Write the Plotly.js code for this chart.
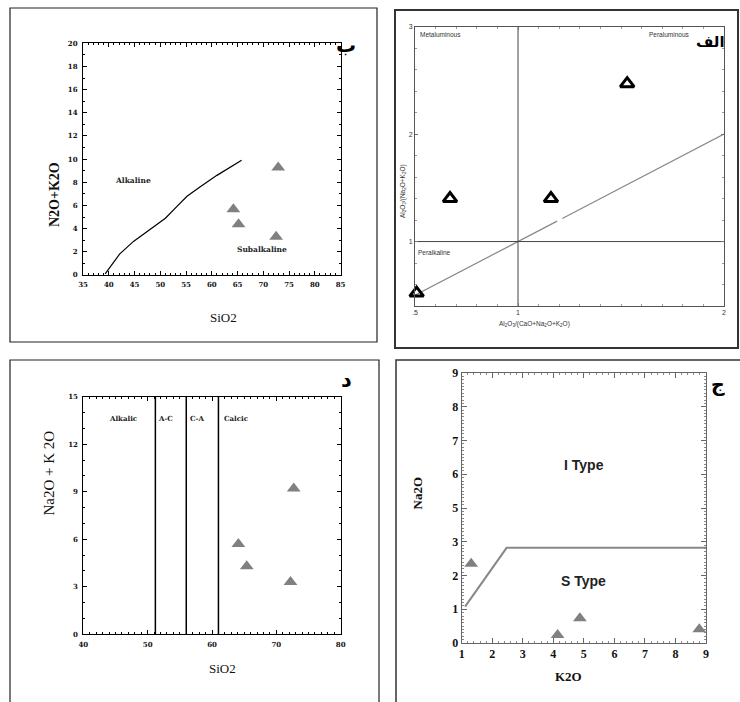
<!DOCTYPE html>
<html>
<head>
<meta charset="utf-8">
<script src="https://cdn.plot.ly/plotly-3.0.1.min.js"></script>
<style>html,body{margin:0;padding:0;background:#fff;}#chart{width:740px;height:702px;}</style>
</head>
<body>
<div id="chart"></div>
<script>
// ---------- DATA ----------
// Panel ب : TAS  (SiO2 vs Na2O+K2O)
const tasBoundarySiO2 = [39.3, 40.3, 42.1, 44.8, 48.0, 51.0, 53.2, 55.2, 57.7, 61.0, 65.8];
const tasBoundaryAlk  = [0.1, 0.7, 1.8, 2.9, 3.9, 4.9, 5.9, 6.8, 7.6, 8.6, 9.9];
const tasSiO2 = [64.2, 65.2, 72.5, 72.9];
const tasAlk  = [5.67, 4.37, 3.3, 9.27];
const tasRegionLabels = ["Alkaline", "Subalkaline"];
const tasRegionX = [44.8, 69.7];
const tasRegionY = [8.2, 2.2];

// Panel الف : Shand A/CNK vs A/NK
const acnk = [0.508, 0.67, 1.16, 1.53];
const ank  = [0.52, 1.40, 1.40, 2.47];
const shandDiagX1 = [0.5, 1.19];
const shandDiagY1 = [0.5, 1.19];
const shandDiagX2 = [1.215, 2.0];
const shandDiagY2 = [1.215, 2.0];
const shandDividerX = 1;
const shandDividerY = 1;
const shandLabels = ["Metaluminous", "Peraluminous", "Peralkaline"];
const shandTickVals = [0.5, 1, 2];
const shandTickText = [".5", "1", "2"];

// Panel د : SiO2 vs Na2O+K2O (Alkalic / A-C / C-A / Calcic)
const peacockBounds = [51.2, 56, 61];
const peacockLabels = ["Alkalic", "A-C", "C-A", "Calcic"];
const peacockLabelX = [46.1, 52.8, 57.7, 63.7];
const peacockSiO2 = [64.1, 65.4, 72.2, 72.7];
const peacockAlk  = [5.7, 4.3, 3.3, 9.2];

// Panel ج : K2O vs Na2O (I/S type); y positions as drawn (labels skip 4)
const isBoundaryK2O  = [1.11, 2.47, 9.0];
const isBoundaryNa2O = [1.08, 2.82, 2.82];
const isK2O  = [1.31, 4.14, 4.87, 8.78];
const isNa2O = [2.35, 0.24, 0.73, 0.41];
const isYTickVals = [0, 1, 2, 3, 4, 5, 6, 7, 8];
const isYTickText = ["0", "1", "2", "3", "5", "6", "7", "8", "9"];
const isLabels = ["I Type", "S Type"];
const isLabelX = [4.99, 4.99];
const isLabelY = [5.28, 1.85];

// ---------- LAYOUT HELPERS ----------
const W = 740, H = 702;
const px = v => v / W;
const py = v => 1 - v / H;

const serifB = {family: "DejaVu Serif", size: 7, color: "#111", weight: "bold"};
const triGrey = {symbol: "triangle-up", size: 12, color: "#808080"};

function ax(extra) {
  return Object.assign({
    showline: true, linecolor: "#000", linewidth: 1, mirror: "allticks",
    ticks: "inside", ticklen: 4, tickcolor: "#000", tickwidth: 1,
    showgrid: false, zeroline: false, fixedrange: true,
  }, extra);
}

const traces = [
  // ب
  {x: tasBoundarySiO2, y: tasBoundaryAlk, xaxis: "x", yaxis: "y", mode: "lines",
   line: {color: "#000", width: 1.2}, hoverinfo: "skip"},
  {x: tasSiO2, y: tasAlk, xaxis: "x", yaxis: "y", mode: "markers", marker: triGrey},
  // الف
  {x: shandDiagX1, y: shandDiagY1, xaxis: "x2", yaxis: "y2", mode: "lines",
   line: {color: "#888", width: 1.2}},
  {x: shandDiagX2, y: shandDiagY2, xaxis: "x2", yaxis: "y2", mode: "lines",
   line: {color: "#888", width: 1.2}},
  {x: [shandDividerX, shandDividerX], y: [0.4, 3], xaxis: "x2", yaxis: "y2", mode: "lines",
   line: {color: "#444", width: 1}},
  {x: [0.5, 2], y: [shandDividerY, shandDividerY], xaxis: "x2", yaxis: "y2", mode: "lines",
   line: {color: "#444", width: 1}},
  {x: acnk, y: ank, xaxis: "x2", yaxis: "y2", mode: "markers",
   marker: {symbol: "triangle-up-open", size: 12, color: "#000", line: {width: 3, color: "#000"}},
   cliponaxis: false},
  // د
  ...peacockBounds.map(b => ({x: [b, b], y: [0, 15], xaxis: "x3", yaxis: "y3", mode: "lines",
   line: {color: "#000", width: 1.5}})),
  {x: peacockSiO2, y: peacockAlk, xaxis: "x3", yaxis: "y3", mode: "markers", marker: triGrey},
  // ج
  {x: isBoundaryK2O, y: isBoundaryNa2O, xaxis: "x4", yaxis: "y4", mode: "lines",
   line: {color: "#888", width: 2}},
  {x: isK2O, y: isNa2O, xaxis: "x4", yaxis: "y4", mode: "markers", marker: triGrey, cliponaxis: false},
];

const annotations = [];
// ب
tasRegionLabels.forEach((t, i) => annotations.push({xref: "x", yref: "y", x: tasRegionX[i], y: tasRegionY[i],
  text: "<b>" + t + "</b>", showarrow: false, font: {family: "DejaVu Serif", size: 7.5, color: "#222"}}));
annotations.push({xref: "paper", yref: "paper", x: px(45), y: py(160), text: "<b>N2O+K2O</b>",
  textangle: -90, showarrow: false, font: {family: "Liberation Serif", size: 14, color: "#111"}});
annotations.push({xref: "paper", yref: "paper", x: px(208), y: py(317), text: "SiO2",
  showarrow: false, font: {family: "Liberation Serif", size: 13, color: "#111"}});
annotations.push({xref: "paper", yref: "paper", x: px(346), y: py(31), text: "<b>ب</b>",
  showarrow: false, font: {family: "DejaVu Sans", size: 20, color: "#000"}});
// الف
annotations.push({xref: "x2", yref: "y2", x: 0.515, y: 2.93, xanchor: "left", text: shandLabels[0],
  showarrow: false, font: {family: "Liberation Sans", size: 6.5, color: "#333"}});
annotations.push({xref: "x2", yref: "y2", x: 1.84, y: 2.93, xanchor: "right", text: shandLabels[1],
  showarrow: false, font: {family: "Liberation Sans", size: 6.5, color: "#333"}});
annotations.push({xref: "x2", yref: "y2", x: 0.505, y: 0.9, xanchor: "left", text: shandLabels[2],
  showarrow: false, font: {family: "Liberation Sans", size: 6.5, color: "#333"}});
annotations.push({xref: "paper", yref: "paper", x: px(403), y: py(162),
  text: "Al<sub>2</sub>O<sub>3</sub>/(Na<sub>2</sub>O+K<sub>2</sub>O)", textangle: -90,
  showarrow: false, font: {family: "Liberation Sans", size: 6.5, color: "#333"}});
annotations.push({xref: "paper", yref: "paper", x: px(572), y: py(324),
  text: "Al<sub>2</sub>O<sub>3</sub>/(CaO+Na<sub>2</sub>O+K<sub>2</sub>O)",
  showarrow: false, font: {family: "Liberation Sans", size: 6.5, color: "#333"}});
annotations.push({xref: "paper", yref: "paper", x: px(727), y: py(31), text: "<b>الف</b>",
  showarrow: false, font: {family: "DejaVu Sans", size: 15, color: "#000"}});
// د
peacockLabels.forEach((t, i) => annotations.push({xref: "x3", yref: "y3", x: peacockLabelX[i], y: 13.6,
  text: "<b>" + t + "</b>", showarrow: false, font: {family: "DejaVu Serif", size: 7, color: "#222"}}));
annotations.push({xref: "paper", yref: "paper", x: px(38), y: py(518), text: "Na2O + K 2O",
  textangle: -90, showarrow: false, font: {family: "Liberation Serif", size: 15, color: "#111"}});
annotations.push({xref: "paper", yref: "paper", x: px(207), y: py(678), text: "SiO2",
  showarrow: false, font: {family: "Liberation Serif", size: 13, color: "#111"}});
annotations.push({xref: "paper", yref: "paper", x: px(346), y: py(380), text: "<b>د</b>",
  showarrow: false, font: {family: "DejaVu Sans", size: 21, color: "#000"}});
// ج
isLabels.forEach((t, i) => annotations.push({xref: "x4", yref: "y4", x: isLabelX[i], y: isLabelY[i],
  text: "<b>" + t + "</b>", showarrow: false, font: {family: "Liberation Sans", size: 14, color: "#222"}}));
annotations.push({xref: "paper", yref: "paper", x: px(417), y: py(512), text: "<b>Na2O</b>",
  textangle: -90, showarrow: false, font: {family: "Liberation Serif", size: 13, color: "#111"}});
annotations.push({xref: "paper", yref: "paper", x: px(584), y: py(686), text: "<b>K2O</b>",
  showarrow: false, font: {family: "Liberation Serif", size: 13, color: "#111"}});
annotations.push({xref: "paper", yref: "paper", x: px(727), y: py(384), text: "<b>ج</b>",
  showarrow: false, font: {family: "DejaVu Sans", size: 19, color: "#000"}});

const frame = (x0, y0, x1, y1, c, w) => ({type: "rect", xref: "paper", yref: "paper",
  x0: px(x0), x1: px(x1), y0: py(y1), y1: py(y0), line: {color: c, width: w}, fillcolor: "rgba(0,0,0,0)"});

const layout = {
  width: W, height: H, margin: {l: 0, r: 0, t: 0, b: 0},
  paper_bgcolor: "#fff", plot_bgcolor: "#fff", showlegend: false,
  shapes: [
    frame(10, 8, 377, 342, "#222", 1.2),
    frame(395, 10, 738, 348, "#333", 2),
    frame(10, 360, 379, 710, "#222", 1.2),
    frame(396, 360, 750, 710, "#333", 1.5),
  ],
  annotations: annotations,
  // ب
  xaxis: ax({domain: [px(83), px(340.5)], anchor: "y", range: [35, 85], dtick: 5, tick0: 35,
    tickfont: serifB, ticklabelstandoff: 3,
    minor: {dtick: 1, ticks: "inside", ticklen: 2, tickcolor: "#000"}}),
  yaxis: ax({domain: [py(275), py(43.3)], anchor: "x", range: [0, 20], dtick: 2,
    tickfont: serifB, ticklabelstandoff: 3,
    minor: {dtick: 1, ticks: "inside", ticklen: 2, tickcolor: "#000"}}),
  // الف
  xaxis2: ax({domain: [px(415), px(724)], anchor: "y2", range: [0.5, 2], tickmode: "array",
    tickvals: shandTickVals, ticktext: shandTickText, linecolor: "#555", tickcolor: "#777", ticklen: 3,
    tickfont: {family: "Liberation Sans", size: 7, color: "#333"},
    minor: {tickmode: "linear", tick0: 0.5, dtick: 0.1, ticks: "inside", ticklen: 2, tickcolor: "#999"}}),
  yaxis2: ax({domain: [py(306), py(26.7)], anchor: "x2", range: [0.4, 3], tickmode: "array",
    tickvals: [1, 2, 3], ticktext: ["1", "2", "3"], linecolor: "#555", tickcolor: "#777", ticklen: 3,
    tickfont: {family: "Liberation Sans", size: 7, color: "#333"},
    minor: {tickmode: "linear", tick0: 0.4, dtick: 0.2, ticks: "inside", ticklen: 2, tickcolor: "#999"}}),
  // د
  xaxis3: ax({domain: [px(83.3), px(340.7)], anchor: "y3", range: [40, 80], dtick: 10, tick0: 40,
    tickfont: serifB, ticklabelstandoff: 3,
    minor: {dtick: 1, ticks: "inside", ticklen: 2, tickcolor: "#000"}}),
  yaxis3: ax({domain: [py(634.3), py(396.7)], anchor: "x3", range: [0, 15], dtick: 3,
    tickfont: serifB, ticklabelstandoff: 3,
    minor: {dtick: 1, ticks: "inside", ticklen: 2, tickcolor: "#000"}}),
  // ج
  xaxis4: ax({domain: [px(461.7), px(706)], anchor: "y4", range: [1, 9], dtick: 1, tick0: 1,
    linecolor: "#666", tickcolor: "#666", ticklen: 5,
    tickfont: {family: "Liberation Serif", size: 12, color: "#111", weight: "bold"},
    minor: {dtick: 0.2, ticks: "inside", ticklen: 2, tickcolor: "#888"}}),
  yaxis4: ax({domain: [py(643), py(373)], anchor: "x4", range: [0, 8], tickmode: "array",
    tickvals: isYTickVals, ticktext: isYTickText, linecolor: "#666", tickcolor: "#666", ticklen: 5,
    tickfont: {family: "Liberation Serif", size: 12, color: "#111", weight: "bold"},
    minor: {tickmode: "linear", tick0: 0, dtick: 0.1, ticks: "inside", ticklen: 2, tickcolor: "#888"}}),
};

Plotly.newPlot("chart", traces, layout, {staticPlot: true, displayModeBar: false});
</script>
</body>
</html>
